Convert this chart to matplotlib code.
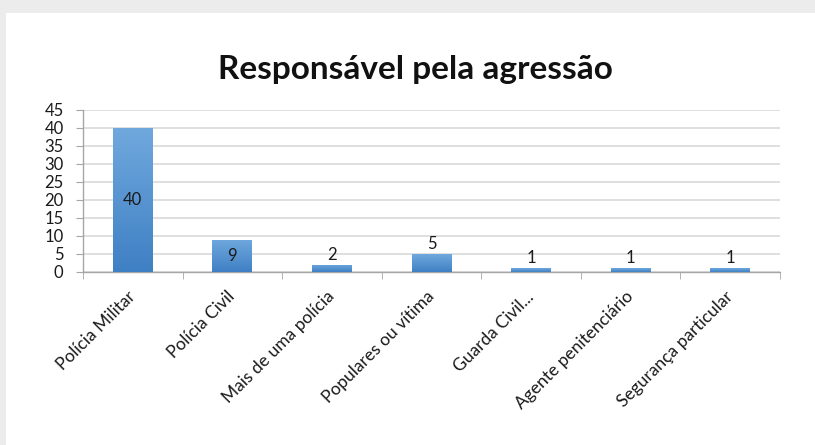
import matplotlib
matplotlib.use("Agg")
import matplotlib.pyplot as plt
import numpy as np
from matplotlib.colors import LinearSegmentedColormap
from matplotlib.patches import Rectangle

categories = ["Polícia Militar", "Polícia Civil", "Mais de uma polícia",
              "Populares ou vítima", "Guarda Civil...", "Agente penitenciário",
              "Segurança particular"]
values = [40, 9, 2, 5, 1, 1, 1]
yticks = [0, 5, 10, 15, 20, 25, 30, 35, 40, 45]

plt.rcParams["font.family"] = ["Lato", "DejaVu Sans"]

fig = plt.figure(figsize=(8.15, 4.45), dpi=100, facecolor="#ececec")
# white card with soft grey margin at top/left
fig.patches.append(Rectangle((6 / 815, 0), 1, 1 - 13 / 445, transform=fig.transFigure,
                             facecolor="white", edgecolor="none", zorder=-5))

ax = fig.add_axes([83 / 815, 1 - 272 / 445, (780 - 83) / 815, (272 - 110) / 445])
ax.set_facecolor("none")
ax.set_zorder(1)

x = np.arange(len(categories))
bars = ax.bar(x, values, width=0.4, color="none", edgecolor="none", zorder=3)
cmap = LinearSegmentedColormap.from_list("bar", ["#3f80c4", "#6fa8dd"])
grad = np.linspace(0, 1, 100).reshape(-1, 1)
for b in bars:
    x0, w, h = b.get_x(), b.get_width(), b.get_height()
    im = ax.imshow(grad, cmap=cmap, origin="lower", aspect="auto",
                   extent=[x0, x0 + w, 0, h], zorder=3)
    im.set_clip_path(b)

for xi, v in zip(x, values):
    if v >= 9:
        ax.text(xi, v / 2, str(v), ha="center", va="center", fontsize=12, color="#1a1a1a", zorder=4)
    else:
        ax.text(xi, v + 0.6, str(v), ha="center", va="bottom", fontsize=12, color="#1a1a1a", zorder=4)

ax.set_xlim(-0.5, len(categories) - 0.5)
ax.set_ylim(0, 45)
ax.set_yticks(yticks)
ax.tick_params(axis="y", labelsize=12, length=5, color="#a6a6a6", pad=9, labelcolor="#1a1a1a")
ax.grid(axis="y", color="#d9d9d9", lw=1.2, zorder=0)
ax.set_axisbelow(True)

ax.set_xticks(x)
ax.set_xticklabels(categories, rotation=45, ha="right", va="center",
                   rotation_mode="anchor", fontsize=12.5, color="#1a1a1a")
ax.tick_params(axis="x", which="major", length=0, pad=16)
ax.set_xticks(np.arange(-0.5, len(categories)), minor=True)
ax.tick_params(axis="x", which="minor", length=5, color="#a6a6a6")

for s in ["top", "right"]:
    ax.spines[s].set_visible(False)
for s in ["left", "bottom"]:
    ax.spines[s].set_color("#a6a6a6")
    ax.spines[s].set_linewidth(1.0)

fig.text(0.51, 1 - 70 / 445, "Responsável pela agressão", ha="center", va="center",
         fontsize=24, fontweight="bold", color="#111111")

fig.savefig("out.png", dpi=100, facecolor=fig.get_facecolor())
